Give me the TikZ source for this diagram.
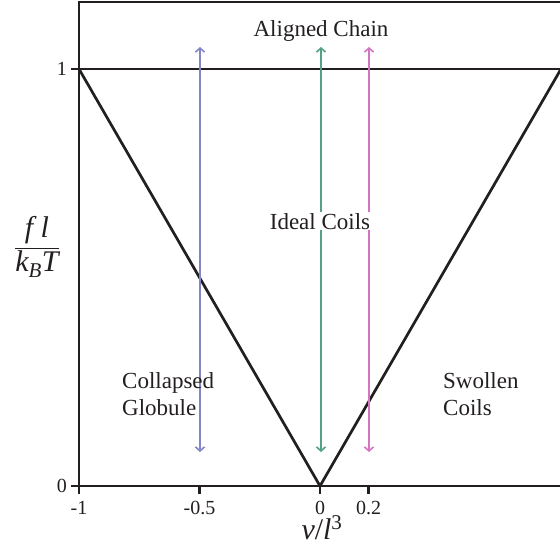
\documentclass[tikz,border=0pt]{standalone}
\usepackage{fontspec}
\setmainfont{Liberation Serif}
\usetikzlibrary{arrows.meta}
\definecolor{ink}{HTML}{231F20}
\definecolor{cblue}{HTML}{8484C8}
\definecolor{cgreen}{HTML}{52A283}
\definecolor{cpink}{HTML}{D674C4}
\begin{document}
\begin{tikzpicture}[x=1pt,y=-1pt,
  frame/.style={draw=ink,line width=2.7pt},
  tickmark/.style={draw=ink,line width=2.4pt},
  lbl/.style={font=\fontsize{23}{27}\selectfont,text=ink,inner sep=0pt},
  ticklbl/.style={font=\fontsize{20}{24}\selectfont,text=ink,inner sep=0pt},
  axlbl/.style={font=\fontsize{30}{36}\selectfont,text=ink,inner sep=0pt},
  arr/.style={line width=1.6pt,{Straight Barb[length=4pt,width=9pt]}-{Straight Barb[length=4pt,width=9pt]}}]
\useasboundingbox (0,0) rectangle (560,543);
% frame and phase boundaries
\coordinate (TL) at (79,2);
\coordinate (TR) at (561,2);
\coordinate (BL) at (79,486);
\coordinate (BR) at (561,486);
\coordinate (A) at (79,69);
\coordinate (B) at (561,69);
\coordinate (O) at (320,486);
\draw[frame] (TR) -- (TL) -- (BL) -- (BR);
\draw[frame] (A) -- (B);
\draw[frame,line join=miter] (A) -- (O) -- (B);
% y ticks
\coordinate (y1a) at (71,69);
\coordinate (y0a) at (71,486);
\draw[tickmark] (y1a) -- (A);
\draw[tickmark] (y0a) -- (BL);
\node[ticklbl,anchor=east] (ylab1) at (67,69) {1};
\node[ticklbl,anchor=east] (ylab0) at (67,486) {0};
% x ticks
\foreach \xx/\tt/\nm in {79/-1/xa,199.5/-0.5/xb,320/0/xc,368.5/0.2/xd}{
  \coordinate (\nm t) at (\xx,486);
  \coordinate (\nm b) at (\xx,494);
  \draw[tickmark] (\nm t) -- (\nm b);
  \node[ticklbl,anchor=base,text depth=0pt] (\nm l) at (\xx,514) {\tt};
}
% axis labels
\node[axlbl,anchor=base,text depth=0pt] (xlab) at (322,539) {\textit{v}/\textit{l}\textsuperscript{3}};
\node[axlbl] (ylab) at (37,247) {$\displaystyle\frac{\mbox{\itshape f l}}{\mbox{\itshape k\textsubscript{B}T}}$};
% arrows
\coordinate (b1) at (200,47);
\coordinate (b2) at (200,452);
\coordinate (g1) at (321,47);
\coordinate (g2) at (321,452);
\coordinate (p1) at (369,47);
\coordinate (p2) at (369,452);
\draw[arr,cblue] (b1) -- (b2);
\draw[arr,cgreen] (g1) -- (g2);
\draw[arr,cpink] (p1) -- (p2);
% region labels
\node[lbl,anchor=base] (aligned) at (321,37) {Aligned Chain};
\node[lbl,anchor=base,fill=white,inner sep=1pt] (ideal) at (320,229) {Ideal Coils};
\node[lbl,anchor=north west,align=left] (collapsed) at (122,372) {Collapsed\\Globule};
\node[lbl,anchor=north west,align=left] (swollen) at (443,372) {Swollen\\Coils};
\end{tikzpicture}
\end{document}
